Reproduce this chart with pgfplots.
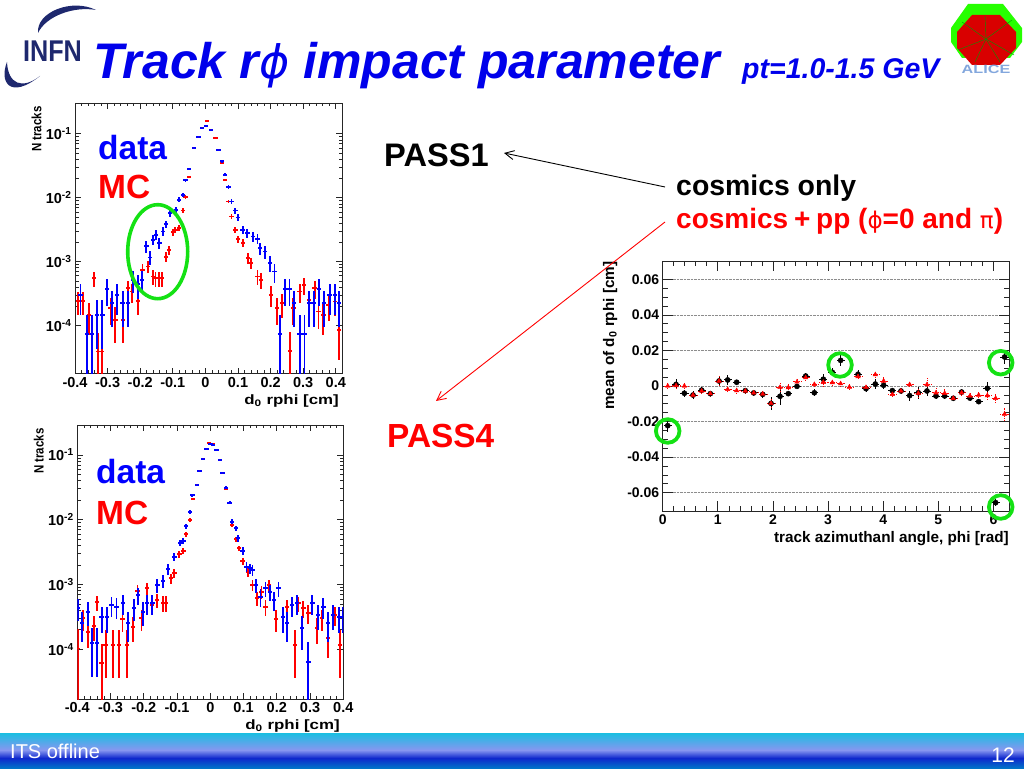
\documentclass[border=0pt]{standalone}
\usepackage{pgfplots}
\pgfplotsset{compat=1.18}
\usepackage{fontspec}
\setmainfont{Liberation Sans}
\newfontfamily\dv{DejaVu Sans}
\usetikzlibrary{arrows.meta}
\definecolor{ringgreen}{RGB}{20,225,20}
\definecolor{slideblue}{RGB}{0,0,235}
\definecolor{infn}{RGB}{30,40,110}
\pgfplotsset{
  every axis/.append style={scale only axis, axis line style={line width=0.7pt,black!85},
    tick align=inside, tick style={line width=0.7pt,black!85},
    clip=true},
  hist/.style={color=#1, only marks, mark=*, mark size=0.01pt, mark options={draw=#1,fill=#1},
    error bars/y dir=both, error bars/y explicit,
    error bars/x dir=both, error bars/x fixed=0.0065, error bars/error mark=none,
    error bars/error bar style={line width=1.9pt,color=#1}},
  logpanel/.style={
    xmin=-0.4, xmax=0.42,
    xtick={-0.4,-0.3,-0.2,-0.1,0,0.1,0.2,0.3,0.4},
    xticklabels={-0.4,-0.3,-0.2,-0.1,0,0.1,0.2,0.3,0.4},
    minor x tick num=4,
    ytick={1e-4,1e-3,1e-2,1e-1},
    yticklabels={10\textsuperscript{-4},10\textsuperscript{-3},10\textsuperscript{-2},10\textsuperscript{-1}},
    major tick length=6pt, minor tick length=3.5pt,
    tick label style={font=\fontsize{14.5}{14.5}\selectfont\bfseries},
    xlabel={\scalebox{1.25}[1]{d\textsubscript{0} rphi [cm]}},
    xlabel style={font=\fontsize{13.5}{13.5}\selectfont\bfseries,at={(rel axis cs:1,0)},anchor=north east,yshift=-17pt},
    ylabel={\scalebox{0.85}[1]{N tracks}},
    ylabel style={font=\fontsize{13.5}{13.5}\selectfont\bfseries,at={(rel axis cs:0,1)},anchor=south east,yshift=30pt},
  },
}
\begin{document}
\begin{tikzpicture}[x=1pt,y=1pt]
\useasboundingbox (0,0) rectangle (1024,768);

% footer band
\shade[top color={rgb,255:red,25;green,190;blue,225},bottom color={rgb,255:red,135;green,150;blue,240}] (0,35) rectangle (1024,18);
\shade[top color={rgb,255:red,135;green,150;blue,240},bottom color={rgb,255:red,15;green,40;blue,205}] (0,18) rectangle (1024,10);
\shade[top color={rgb,255:red,15;green,40;blue,205},bottom color={rgb,255:red,0;green,115;blue,200}] (0,10) rectangle (1024,0);

% pass 1
\begin{axis}[at={(75pt,394.3pt)},anchor=south west,width=267.3pt,height=270.7pt,ymode=log,logpanel,
  ymin=1.77e-5,ymax=0.302]
\addplot[hist=red] table[x=x,y=y,y error=e,row sep=\\]{
x y e\\
-.390 2.44e-4 9.6e-5\\ -.376 2.44e-4 9.6e-5\\ -.357 1.47e-4 7.5e-5\\ -.342 5.51e-4 1.45e-4\\
-.329 3.93e-5 3.8e-5\\ -.318 3.93e-5 3.8e-5\\ -.291 1.87e-4 8.4e-5\\ -.276 1.23e-4 7e-5\\
-.252 1.23e-4 7e-5\\ -.238 3.85e-4 1.2e-4\\ -.224 3.41e-4 1.14e-4\\ -.207 2.44e-4 9.6e-5\\
-.193 7.44e-4 1.68e-4\\ -.177 8.4e-4 1.78e-4\\ -.161 5.85e-4 1.5e-4\\ -.153 5.51e-4 1.45e-4\\
-.143 5.51e-4 1.45e-4\\ -.133 5.51e-4 1.45e-4\\ -.121 1.2e-3 2.1e-4\\ -.111 1.53e-3 2.4e-4\\
-.100 2.89e-3 3.3e-4\\ -.092 3.15e-3 3.5e-4\\ -.082 3.34e-3 3.6e-4\\ -.068 6.3e-3 4.9e-4\\
-.061 1.03e-2 6.3e-4\\ -.050 2.12e-2 9e-4\\ -.036 5.97e-2 1.5e-3\\ -.021 8.87e-2 1.8e-3\\
-.010 .125 2e-3\\ .005 .158 2.5e-3\\ .017 .116 2e-3\\ .031 8.6e-2 1.8e-3\\
.041 5.6e-2 1.5e-3\\ .050 3.47e-2 1.1e-3\\ .060 1.9e-2 8.5e-4\\ .071 8.7e-3 5.7e-4\\
.080 5.08e-3 4.4e-4\\ .092 3.15e-3 3.5e-4\\ .100 2.25e-3 2.9e-4\\ .115 1.95e-3 2.7e-4\\
.131 1.13e-3 2.1e-4\\ .140 9.5e-4 1.9e-4\\ .160 5.85e-4 1.5e-4\\ .170 5.19e-4 1.4e-4\\
.201 3.02e-4 1.07e-4\\ .219 1.87e-4 8.4e-5\\ .235 2.24e-4 9.2e-5\\ .260 4e-5 3.9e-5\\
.270 1.87e-4 8.4e-5\\ .289 3.41e-4 1.14e-4\\ .303 4.34e-4 1.28e-4\\ .319 2.5e-4 9.7e-5\\
.335 3.85e-4 1.2e-4\\ .347 1.66e-4 7.9e-5\\ .362 1.47e-4 7.5e-5\\ .378 2.1e-4 9e-5\\
.398 2.38e-4 9.5e-5\\ .411 8.6e-5 5.7e-5\\
};
\addplot[hist=blue] table[x=x,y=y,y error=e,row sep=\\]{
x y e\\
-.383 2.96e-4 1.48e-4\\ -.364 7.4e-5 7.3e-5\\ -.349 7.4e-5 7.3e-5\\ -.333 1.48e-4 1.05e-4\\
-.316 1.48e-4 1.05e-4\\ -.301 3.7e-4 1.65e-4\\ -.286 2.22e-4 1.28e-4\\ -.270 2.96e-4 1.48e-4\\
-.254 2.22e-4 1.28e-4\\ -.238 2.22e-4 1.28e-4\\ -.222 5.18e-4 1.96e-4\\ -.206 4.44e-4 1.81e-4\\
-.194 5.18e-4 1.96e-4\\ -.181 1.73e-3 3.6e-4\\ -.171 1.16e-3 2.9e-4\\ -.160 2.19e-3 4e-4\\
-.151 2.63e-3 4.4e-4\\ -.141 1.95e-3 3.8e-4\\ -.131 2.96e-3 4.7e-4\\ -.120 3.86e-3 5.3e-4\\
-.108 5.67e-3 6.5e-4\\ -.091 6.47e-3 6.9e-4\\ -.080 9.27e-3 8.3e-4\\ -.068 1.11e-2 9.1e-4\\
-.061 1.86e-2 1.2e-3\\ -.051 2.8e-2 1.4e-3\\ -.036 5.97e-2 2.1e-3\\ -.021 8.87e-2 2.6e-3\\
-.010 .124 3e-3\\ .002 .130 3e-3\\ .017 .116 3e-3\\ .040 5.6e-2 2e-3\\
.050 3.69e-2 1.7e-3\\ .060 2.28e-2 1.3e-3\\ .071 1.48e-2 1.05e-3\\ .080 8.7e-3 8e-4\\
.092 6.3e-3 6.8e-4\\ .101 4.9e-3 6e-4\\ .114 3.15e-3 4.8e-4\\ .129 2.79e-3 4.5e-4\\
.145 2.47e-3 4.3e-4\\ .160 2.27e-3 4.1e-4\\ .168 1.63e-3 3.5e-4\\ .184 1.44e-3 3.3e-4\\
.199 9.5e-4 2.6e-4\\ .212 7e-4 2.3e-4\\ .230 7.4e-5 7.3e-5\\ .245 3.7e-4 1.65e-4\\
.258 3.7e-4 1.65e-4\\ .272 2.22e-4 1.28e-4\\ .289 7.4e-5 7.3e-5\\ .304 7.4e-5 7.3e-5\\
.319 2.22e-4 1.28e-4\\ .332 2.22e-4 1.28e-4\\ .349 3.7e-4 1.65e-4\\ .364 2.22e-4 1.28e-4\\
.381 2.96e-4 1.48e-4\\ .398 2.96e-4 1.48e-4\\ .411 2.22e-4 1.28e-4\\
};
\end{axis}

% pass 4
\begin{axis}[at={(77.3pt,69pt)},anchor=south west,width=266pt,height=274pt,ymode=log,logpanel,
  xmax=0.4,ymin=1.71e-5,ymax=0.29]
\addplot[hist=red] table[x=x,y=y,y error=e,row sep=\\]{
x y e\\
-.398 1.03e-4 1e-4\\ -.382 3e-4 1.07e-4\\ -.367 1.87e-4 8.4e-5\\ -.350 2.29e-4 9.3e-5\\
-.340 5.31e-4 1.42e-4\\ -.327 6.07e-5 5.9e-5\\ -.315 1.16e-4 8e-5\\ -.292 1.16e-4 8e-5\\
-.275 1.16e-4 8e-5\\ -.264 2.94e-4 1.1e-4\\ -.250 1.16e-4 8e-5\\ -.232 2.23e-4 9.5e-5\\
-.219 7.94e-4 1.8e-4\\ -.207 3e-4 1.07e-4\\ -.191 8.74e-4 1.9e-4\\ -.176 4.83e-4 1.4e-4\\
-.161 5.77e-4 1.5e-4\\ -.143 5.25e-4 1.45e-4\\ -.133 5.25e-4 1.45e-4\\ -.119 1.25e-3 2.2e-4\\
-.108 1.49e-3 2.4e-4\\ -.093 2.92e-3 3.3e-4\\ -.081 3.3e-3 3.6e-4\\ -.073 5.96e-3 4.8e-4\\
-.062 9.9e-3 6e-4\\ -.053 2.09e-2 9e-4\\ -.041 3.48e-2 1.1e-3\\ -.032 5.73e-2 1.5e-3\\
-.021 8.77e-2 1.8e-3\\ -.004 .153 2.5e-3\\ .009 .148 2.5e-3\\ .029 8.37e-2 1.8e-3\\
.037 5.21e-2 1.4e-3\\ .047 2.95e-2 1.1e-3\\ .066 8.3e-3 5.6e-4\\ .077 4.99e-3 4.4e-4\\
.086 3.62e-3 3.7e-4\\ .097 2.31e-3 3e-4\\ .114 1.58e-3 2.5e-4\\ .127 9.84e-4 1.9e-4\\
.141 6.12e-4 1.5e-4\\ .154 7.76e-4 1.7e-4\\ .166 4.55e-4 1.3e-4\\ .177 9.84e-4 1.9e-4\\
.197 2.94e-4 1.1e-4\\ .230 4.55e-4 1.3e-4\\ .255 1.16e-4 8e-5\\ .265 5.13e-4 1.4e-4\\
.280 4.29e-4 1.3e-4\\ .295 3.59e-4 1.17e-4\\ .320 2.11e-4 8.9e-5\\ .335 3e-4 1.07e-4\\
.355 1.48e-4 7.5e-5\\ .375 3.39e-4 1.13e-4\\ .390 1.16e-4 8e-5\\
};
\addplot[hist=blue] table[x=x,y=y,y error=e,row sep=\\]{
x y e\\
-.398 4.29e-4 1.6e-4\\ -.386 2.52e-4 1.23e-4\\ -.367 3.81e-4 1.51e-4\\ -.355 1.24e-4 8.6e-5\\
-.340 1.24e-4 8.6e-5\\ -.327 3.19e-4 1.38e-4\\ -.310 3.19e-4 1.38e-4\\ -.297 4.83e-4 1.7e-4\\
-.282 4.55e-4 1.65e-4\\ -.262 5.13e-4 1.75e-4\\ -.247 2.52e-4 1.23e-4\\ -.230 4.29e-4 1.6e-4\\
-.217 6.89e-4 2e-4\\ -.202 3.81e-4 1.51e-4\\ -.191 5.13e-4 1.75e-4\\ -.174 5.13e-4 1.75e-4\\
-.159 9.84e-4 2.4e-4\\ -.143 1.15e-3 2.6e-4\\ -.128 1.72e-3 3.2e-4\\ -.108 2.69e-3 4e-4\\
-.091 4.38e-3 5.1e-4\\ -.081 4.7e-3 5.3e-4\\ -.073 7.92e-3 6.9e-4\\ -.062 1.33e-2 8.9e-4\\
-.054 2.38e-2 1.2e-3\\ -.041 3.48e-2 1.4e-3\\ -.032 5.73e-2 1.8e-3\\ -.021 8.77e-2 2.3e-3\\
-.011 .124 2.7e-3\\ .001 .148 3e-3\\ .009 .143 3e-3\\ .019 .118 2.7e-3\\
.029 8.37e-2 2.2e-3\\ .037 5.21e-2 1.8e-3\\ .047 3.13e-2 1.4e-3\\ .058 1.84e-2 1.05e-3\\
.066 9.35e-3 7.5e-4\\ .077 7.38e-3 6.7e-4\\ .084 5.16e-3 5.6e-4\\ .097 3.3e-3 4.5e-4\\
.109 1.89e-3 3.4e-4\\ .119 1.78e-3 3.3e-4\\ .127 1.68e-3 3.2e-4\\ .137 9.84e-4 2.4e-4\\
.151 6.5e-4 2e-4\\ .166 8.74e-4 2.3e-4\\ .179 7.76e-4 2.2e-4\\ .191 5.77e-4 1.9e-4\\
.205 8.74e-4 2.3e-4\\ .218 3.19e-4 1.38e-4\\ .230 2.52e-4 1.23e-4\\ .245 4.83e-4 1.7e-4\\
.260 5.13e-4 1.75e-4\\ .276 2.11e-4 1.13e-4\\ .295 6.45e-5 6.3e-5\\ .307 5.13e-4 1.75e-4\\
.323 3.39e-4 1.43e-4\\ .340 4.55e-4 1.65e-4\\ .355 2.52e-4 1.23e-4\\ .370 3.39e-4 1.43e-4\\
.388 3.19e-4 1.38e-4\\ .398 3.19e-4 1.38e-4\\
};
\end{axis}

% mean vs phi
\begin{axis}[at={(662.7pt,257pt)},anchor=south west,width=346.6pt,height=250pt,
  xmin=0,xmax=6.288,ymin=-0.0703,ymax=0.0703,
  scaled y ticks=false,
  xtick={0,1,2,3,4,5,6},xticklabels={0,1,2,3,4,5,6},minor x tick num=4,
  ytick={-0.06,-0.04,-0.02,0,0.02,0.04,0.06},
  yticklabels={-0.06,-0.04,-0.02,0,0.02,0.04,0.06},minor y tick num=3,
  ymajorgrids,major grid style={densely dotted,line width=0.5pt,black!45},
  major tick length=10pt,minor tick length=5pt,
  tick label style={font=\fontsize{14}{14}\selectfont\bfseries},
  xlabel={track azimuthanl angle, phi [rad]},
  xlabel style={font=\fontsize{15.3}{15.3}\selectfont\bfseries,at={(rel axis cs:1,0)},anchor=north east,yshift=-17pt,xshift=3pt},
  ylabel={mean of d\textsubscript{0} rphi [cm]},
  ylabel style={font=\fontsize{15.3}{15.3}\selectfont\bfseries,at={(rel axis cs:0,1)},anchor=south east,yshift=42pt,xshift=3pt},
]
\addplot[black,only marks,mark=*,mark size=2.6pt,error bars/.cd,y dir=both,y explicit,x dir=both,x fixed=0.075,error mark=none,error bar style={line width=0.9pt,black}]
 table[x=x,y=y,y error=e,row sep=\\]{
x y e\\
.091 -.0223 .0038\\ .242 .0009 .0028\\ .393 -.0041 .0019\\ .550 -.0051 .0023\\ .707 -.0023 .0019\\
.864 -.0043 .0015\\ 1.022 .0028 .0028\\ 1.179 .0034 .0028\\ 1.342 .0021 .0015\\ 1.499 -.0026 .0015\\
1.651 -.0039 .0015\\ 1.814 -.0047 .0019\\ 1.965 -.0098 .0038\\ 2.128 -.0058 .0047\\ 2.279 -.0043 .0015\\
2.436 -.0002 .0015\\ 2.594 .0056 .0015\\ 2.751 -.0038 .0019\\ 2.914 .0038 .0028\\ 3.077 .0077 .0023\\
3.228 .0144 .0034\\ 3.543 .0066 .0023\\ 3.688 -.0015 .0019\\ 3.857 .0011 .0028\\ 4.008 .0004 .0019\\
4.166 -.0026 .0015\\ 4.323 -.0028 .0015\\ 4.480 -.0054 .0028\\ 4.637 -.0038 .0034\\ 4.794 -.0028 .0028\\
4.958 -.0056 .0015\\ 5.115 -.0056 .0019\\ 5.272 -.0069 .0011\\ 5.423 -.0034 .0015\\ 5.574 -.0068 .0019\\
5.732 -.0088 .0015\\ 5.889 -.0013 .0034\\ 6.040 -.0656 .0019\\ 6.203 .0163 .0038\\
};
\addplot[red,only marks,mark=triangle*,mark size=2.6pt,error bars/.cd,y dir=both,y explicit,x dir=both,x fixed=0.075,error mark=none,error bar style={line width=0.9pt,densely dotted,red}]
 table[x=x,y=y,y error=e,row sep=\\]{
x y e\\
.091 0 .0015\\ .242 .0002 .0019\\ .393 0 .0019\\ .550 -.0051 .0015\\ .707 -.0028 .0015\\
.864 -.0043 .0015\\ 1.022 .0028 .0028\\ 1.179 -.0019 .0019\\ 1.342 -.0026 .0015\\ 1.499 -.0028 .0015\\
1.651 -.0039 .0015\\ 1.814 -.0045 .0015\\ 1.965 -.0098 .0028\\ 2.128 -.0008 .0028\\ 2.279 -.0009 .0023\\
2.436 .0023 .0019\\ 2.594 .0047 .0015\\ 2.751 .0009 .0019\\ 2.914 .0021 .0023\\ 3.077 .0019 .0019\\
3.228 .0013 .0019\\ 3.386 -.0006 .0015\\ 3.543 .0053 .0015\\ 3.688 -.0008 .0019\\ 3.857 .0064 .0019\\
4.008 .0028 .0023\\ 4.166 -.0047 .0015\\ 4.323 -.0028 .0015\\ 4.480 .0008 .0015\\ 4.637 -.0041 .0028\\
4.794 .0008 .0038\\ 4.958 -.0038 .0028\\ 5.115 -.0041 .0023\\ 5.272 -.0069 .0011\\ 5.423 -.0038 .0015\\
5.574 -.0056 .0019\\ 5.732 -.0051 .0015\\ 5.889 -.0054 .0023\\ 6.040 -.0069 .0023\\ 6.203 -.0158 .0034\\
};
\end{axis}

% everything below in reference pixel coordinates, y running down
\begin{scope}[x=1pt,y=-1pt,yshift=768pt,font=\bfseries]
\draw[ringgreen,line width=3.6pt] (157.7,251.7) ellipse [x radius=30,y radius=47];
\foreach \cx/\cy in {840/365,1000.7/362.7,667.7/431,1000.7/507}
  \draw[ringgreen,line width=3.8pt] (\cx,\cy) circle [radius=11.8];

\draw[black,line width=0.9pt,-{Straight Barb[length=9pt,width=9pt]}] (665,187) -- (504,153);
\draw[red,line width=0.9pt,-{Straight Barb[length=9pt,width=9pt]}] (665,222) -- (436,401);

\node[anchor=west,inner sep=0pt,blue,font=\fontsize{33.5}{33.5}\selectfont\bfseries] at (98,148) {data};
\node[anchor=west,inner sep=0pt,red,font=\fontsize{33.5}{33.5}\selectfont\bfseries] at (98,187) {MC};
\node[anchor=west,inner sep=0pt,blue,font=\fontsize{33.5}{33.5}\selectfont\bfseries] at (96,472) {data};
\node[anchor=west,inner sep=0pt,red,font=\fontsize{33.5}{33.5}\selectfont\bfseries] at (96,513) {MC};
\node[anchor=west,inner sep=0pt,font=\fontsize{32.6}{32.6}\selectfont\bfseries] at (384,155) {PASS1};
\node[anchor=west,inner sep=0pt,red,font=\fontsize{33.4}{33.4}\selectfont\bfseries] at (387,436) {PASS4};
\node[anchor=west,inner sep=0pt,font=\fontsize{28.4}{28.4}\selectfont\bfseries] at (676,188) {cosmics only};
\node[anchor=west,inner sep=0pt,red,font=\fontsize{28}{28}\selectfont\bfseries] at (676,221)
  {cosmics\hspace{-2pt} + \hspace{-2pt}pp ({\dv\mdseries\fontsize{23}{23}\selectfont ϕ}=0 and {\dv\mdseries\fontsize{23}{23}\selectfont π})};

% title
\node[anchor=base west,slideblue,font=\fontsize{50}{50}\selectfont\bfseries\itshape,inner sep=0pt] at (93,79)
  {Track r{\dv\mdseries\fontsize{46}{46}\selectfont ϕ} impact parameter};
\node[anchor=base west,slideblue,font=\fontsize{28.5}{28.5}\selectfont\bfseries\itshape,inner sep=0pt] at (742,79)
  {pt=1.0-1.5 GeV};

% footer text
\node[anchor=west,white,font=\fontsize{20}{20}\selectfont,inner sep=0pt] at (10,751) {ITS offline};
\node[anchor=east,white,font=\fontsize{21}{21}\selectfont,inner sep=0pt] at (1015,755) {12};

% INFN logo
\fill[infn] (38,33) .. controls (36,12) and (72,-2) .. (96,10) .. controls (74,6) and (46,16) .. (38,33) -- cycle;
\fill[infn] (7,62) .. controls (-1,82) and (10,100) .. (40,76) .. controls (22,90) and (8,84) .. (7,62) -- cycle;
\node[anchor=center,infn,inner sep=0pt,font=\fontsize{30}{30}\selectfont\bfseries] at (52.5,51) {\scalebox{0.84}[1]{INFN}};

% ALICE logo
\fill[green!85!yellow] (968,4) -- (1003,4) -- (1022,28) -- (1022,42) -- (1010,58) -- (962,58) -- (951,42) -- (951,28) -- cycle;
\fill[red!85!black] (972,15) -- (1000,15) -- (1016,32) -- (1016,48) -- (1000,65) -- (972,65) -- (957,48) -- (957,32) -- cycle;
\foreach \ex/\ey in {962/22,1012/20,958/50,1014/55,985/16,975/62,1000/62}
  \draw[green!60!black,line width=0.4pt] (986,39) -- (\ex,\ey);
\node[anchor=center,cyan!50!blue!50,font=\fontsize{12}{12}\selectfont\bfseries,inner sep=0pt] at (986,69) {\scalebox{1.35}[1]{ALICE}};
\end{scope}
\end{tikzpicture}
\end{document}
